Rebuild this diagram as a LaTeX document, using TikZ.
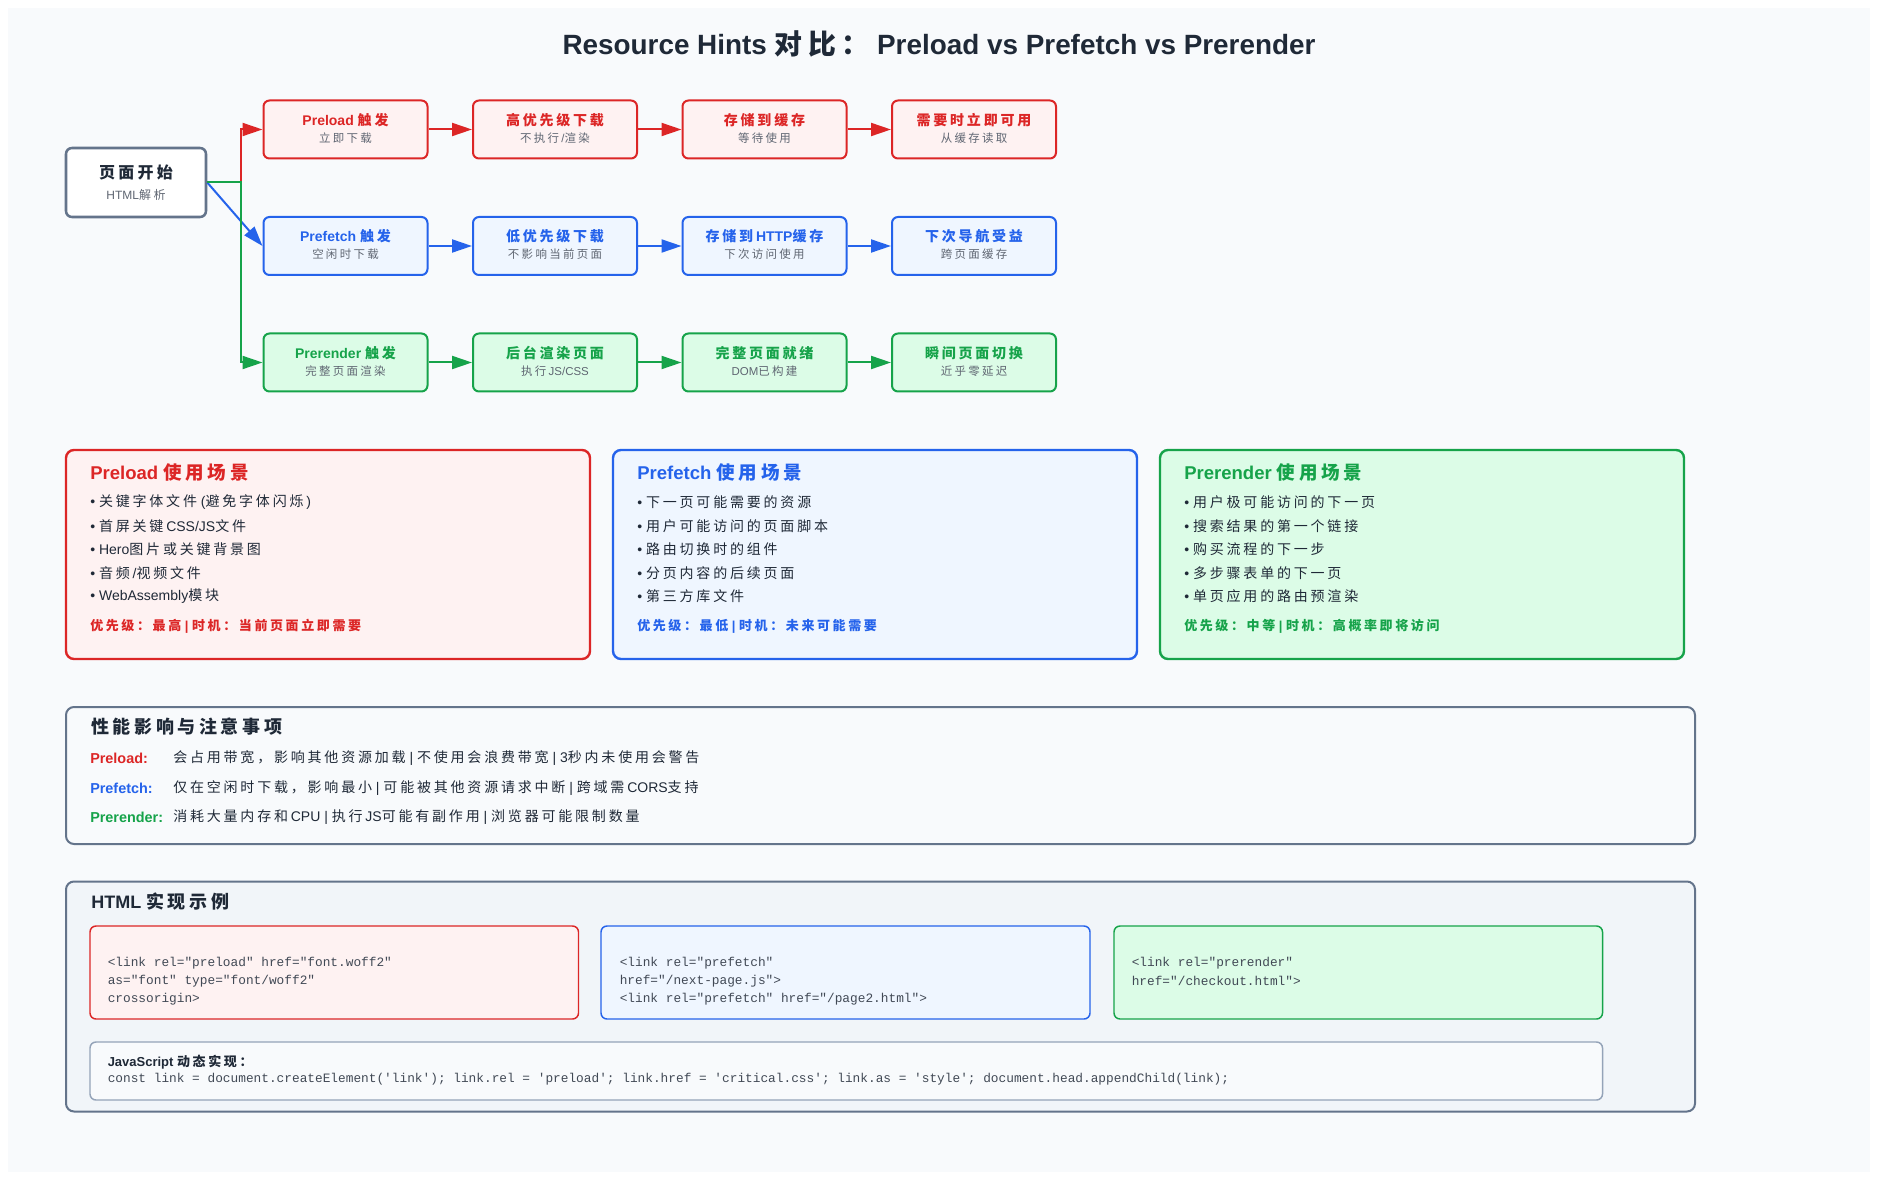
\documentclass[tikz,border=0pt]{standalone}
\usepackage{fontspec}
\setmainfont{Liberation Sans}
\setmonofont{Liberation Mono}
\newfontfamily\cjk{Noto Sans CJK SC}
\usetikzlibrary{arrows.meta}

\definecolor{cred}{HTML}{DC2626}
\definecolor{credl}{HTML}{FEF2F2}
\definecolor{cblue}{HTML}{2563EB}
\definecolor{cbluel}{HTML}{EFF6FF}
\definecolor{cgreen}{HTML}{16A34A}
\definecolor{cgreenl}{HTML}{DCFCE7}
\definecolor{cslate}{HTML}{64748B}
\definecolor{cink}{HTML}{1F2937}
\definecolor{cgray}{HTML}{5F6672}
\definecolor{cbg}{HTML}{F8FAFC}
\definecolor{cpanel}{HTML}{F1F5F9}
\definecolor{cline}{HTML}{94A3B8}

% Chinese characters are set in \cjk, with some tracking
\XeTeXinterchartokenstate=1
\newXeTeXintercharclass\cjkcls
\newcount\cjkc
\newcommand\cjkrange[2]{\cjkc=#1\relax
  \loop\XeTeXcharclass\cjkc=\cjkcls\relax\ifnum\cjkc<#2\relax\advance\cjkc by 1\relax\repeat}
\cjkrange{"4E00}{"9FFF}
\cjkrange{"3000}{"303F}
\cjkrange{"FF00}{"FFEF}
\XeTeXinterchartoks 0 \cjkcls = {\cjk}
\XeTeXinterchartoks 4095 \cjkcls = {\cjk}
\XeTeXinterchartoks \cjkcls 0 = {\kern0.2em\rmfamily}
\XeTeXinterchartoks \cjkcls 4095 = {\rmfamily}
\XeTeXinterchartoks \cjkcls \cjkcls = {\kern0.2em}

\tikzset{
  flowbox/.style={draw, line width=1.5pt, rounded corners=4.5pt, minimum width=123pt, minimum height=43.5pt, inner sep=0pt},
  flowtitle/.style={inner sep=0pt, font=\fontsize{10.5}{12}\selectfont\bfseries},
  flowsub/.style={inner sep=0pt, text=cgray, font=\fontsize{8.6}{10}\selectfont},
  flow/.style={line width=1.5pt, -{Triangle[length=15pt,width=9.75pt]}},
  casebox/.style={line width=1.8pt, rounded corners=6pt},
  casehead/.style={anchor=west, inner sep=0pt, font=\fontsize{13.9}{16}\selectfont\bfseries},
  casebullet/.style={anchor=west, inner sep=0pt, text=cink, font=\fontsize{10.5}{12}\selectfont},
  prio/.style={anchor=west, inner sep=0pt, font=\fontsize{9.75}{12}\selectfont\bfseries},
  secbox/.style={draw=cslate, line width=1.5pt, rounded corners=6pt},
  sechead/.style={anchor=west, inner sep=0pt, text=cink, font=\fontsize{13.5}{16}\selectfont\bfseries},
  plabel/.style={anchor=west, inner sep=0pt, font=\fontsize{10.8}{13}\selectfont\bfseries},
  ptext/.style={anchor=west, inner sep=0pt, text=cink, font=\fontsize{10.5}{12}\selectfont},
  codebox/.style={line width=1.1pt, rounded corners=4.5pt},
  codeline/.style={anchor=west, inner sep=0pt, text=cink!85, font=\fontsize{9.6}{11}\selectfont\ttfamily},
}

\begin{document}
\begin{tikzpicture}[x=0.75pt, y=-0.75pt]
	\useasboundingbox (0,0) rectangle (1878,1180);
	\fill[white] (0,0) rectangle (1878,1180);
	\fill[cbg] (8,8) rectangle (1870,1172);
	\node[text=cink, font=\fontsize{20.9}{24}\selectfont\bfseries] (title) at (939,44) {Resource Hints 对比： Preload vs Prefetch vs Prerender};

	% flow: start node and three rows
	\node[flowbox, draw=cslate, fill=white, line width=1.9pt, minimum width=105pt, minimum height=51.75pt] (start) at (136,182.5) {};
	\node[inner sep=0pt, text=cink, font=\fontsize{12}{14}\selectfont\bfseries] (startT) at (136,172) {页面开始};
	\node[flowsub, font=\fontsize{9}{11}\selectfont] (startS) at (136,195) {HTML解析};
	\coordinate (fork) at (241,182.5);
	\foreach \t/\s [count=\i from 0] in {Preload 触发/立即下载, 高优先级下载/{不执行/渲染}, 存储到缓存/等待使用, 需要时立即可用/从缓存读取} {
		\node[flowbox, draw=cred, fill=credl] (pl\i) at ({345.5+209.5*\i},129.5) {};
		\node[flowtitle, text=cred] (plT\i) at ({345.5+209.5*\i},120) {\t};
		\node[flowsub] (plS\i) at ({345.5+209.5*\i},138) {\s};
	}
	\foreach \t/\s [count=\i from 0] in {Prefetch 触发/空闲时下载, 低优先级下载/不影响当前页面, 存储到HTTP缓存/下次访问使用, 下次导航受益/跨页面缓存} {
		\node[flowbox, draw=cblue, fill=cbluel] (pf\i) at ({345.5+209.5*\i},246) {};
		\node[flowtitle, text=cblue] (pfT\i) at ({345.5+209.5*\i},236.5) {\t};
		\node[flowsub] (pfS\i) at ({345.5+209.5*\i},254.5) {\s};
	}
	\foreach \t/\s [count=\i from 0] in {Prerender 触发/完整页面渲染, 后台渲染页面/{执行JS/CSS}, 完整页面就绪/DOM已构建, 瞬间页面切换/近乎零延迟} {
		\node[flowbox, draw=cgreen, fill=cgreenl] (pr\i) at ({345.5+209.5*\i},362.5) {};
		\node[flowtitle, text=cgreen] (prT\i) at ({345.5+209.5*\i},353) {\t};
		\node[flowsub] (prS\i) at ({345.5+209.5*\i},371) {\s};
	}
	\foreach \a/\b in {0/1, 1/2, 2/3} {
		\draw[flow, cred] (pl\a.east) -- (pl\b.west);
		\draw[flow, cblue] (pf\a.east) -- (pf\b.west);
		\draw[flow, cgreen] (pr\a.east) -- (pr\b.west);
	}
	\draw[flow, cred] (start.east) -- (fork) |- (pl0.west);
	\draw[flow, cblue] (start.east) -- (pf0.west);
	\draw[flow, cgreen] (start.east) -- (fork) |- (pr0.west);

	% use cases
	\draw[casebox, draw=cred, fill=credl] (66,450) rectangle (590,659);
	\node[casehead, text=cred] (plCase) at (90,472) {Preload 使用场景};
	\foreach \itm [count=\k from 0] in {• 关键字体文件 (避免字体闪烁), • 首屏关键CSS/JS文件, • Hero图片或关键背景图, • 音频/视频文件, • WebAssembly模块}
		\node[casebullet] (plB\k) at (90,{502.5+23.5*\k}) {\itm};
	\node[prio, text=cred] (plPrio) at (90,626) {优先级：最高 | 时机：当前页面立即需要};

	\draw[casebox, draw=cblue, fill=cbluel] (613,450) rectangle (1137,659);
	\node[casehead, text=cblue] (pfCase) at (637,472) {Prefetch 使用场景};
	\foreach \itm [count=\k from 0] in {• 下一页可能需要的资源, • 用户可能访问的页面脚本, • 路由切换时的组件, • 分页内容的后续页面, • 第三方库文件}
		\node[casebullet] (pfB\k) at (637,{502.5+23.5*\k}) {\itm};
	\node[prio, text=cblue] (pfPrio) at (637,626) {优先级：最低 | 时机：未来可能需要};

	\draw[casebox, draw=cgreen, fill=cgreenl] (1160,450) rectangle (1684,659);
	\node[casehead, text=cgreen] (prCase) at (1184,472) {Prerender 使用场景};
	\foreach \itm [count=\k from 0] in {• 用户极可能访问的下一页, • 搜索结果的第一个链接, • 购买流程的下一步, • 多步骤表单的下一页, • 单页应用的路由预渲染}
		\node[casebullet] (prB\k) at (1184,{502.5+23.5*\k}) {\itm};
	\node[prio, text=cgreen] (prPrio) at (1184,626) {优先级：中等 | 时机：高概率即将访问};

	% performance notes
	\draw[secbox, fill=cbg] (66,707) rectangle (1695,844);
	\node[sechead] (perfT) at (91,727) {性能影响与注意事项};
	\node[plabel, text=cred] (perfL1) at (90,758) {Preload:};
	\node[ptext] (perfX1) at (173,758) {会占用带宽，影响其他资源加载 | 不使用会浪费带宽 | 3秒内未使用会警告};
	\node[plabel, text=cblue] (perfL2) at (90,788) {Prefetch:};
	\node[ptext] (perfX2) at (173,788) {仅在空闲时下载，影响最小 | 可能被其他资源请求中断 | 跨域需CORS支持};
	\node[plabel, text=cgreen] (perfL3) at (90,817) {Prerender:};
	\node[ptext] (perfX3) at (173,817) {消耗大量内存和CPU | 执行JS可能有副作用 | 浏览器可能限制数量};

	% html examples
	\draw[secbox, fill=cpanel] (66,881.5) rectangle (1695,1111.5);
	\node[sechead] (htmlT) at (91,902) {HTML 实现示例};
	\draw[codebox, draw=cred, fill=credl] (90,926) rectangle (578.5,1019);
	\foreach \itm [count=\k from 0] in {{<link rel="preload" href="font.woff2"}, {as="font" type="font/woff2"}, {crossorigin>}}
		\node[codeline] (plCode\k) at (107.5,{963+18*\k}) {\itm};
	\draw[codebox, draw=cblue, fill=cbluel] (601,926) rectangle (1090,1019);
	\foreach \itm [count=\k from 0] in {{<link rel="prefetch"}, {href="/next-page.js">}, {<link rel="prefetch" href="/page2.html">}}
		\node[codeline] (pfCode\k) at (619.5,{963+18*\k}) {\itm};
	\draw[codebox, draw=cgreen, fill=cgreenl] (1114,926) rectangle (1602.5,1019);
	\foreach \itm [count=\k from 0] in {{<link rel="prerender"}, {href="/checkout.html">}}
		\node[codeline] (prCode\k) at (1131.5,{963+18*\k}) {\itm};
	\draw[codebox, draw=cline, fill=cbg] (90,1042) rectangle (1602.5,1100);
	\node[anchor=west, inner sep=0pt, text=cink, font=\fontsize{9.75}{12}\selectfont\bfseries] (jsT) at (107.5,1062) {JavaScript 动态实现：};
	\node[codeline] (jsCode) at (107.5,1079) {const link = document.createElement('link'); link.rel = 'preload'; link.href = 'critical.css'; link.as = 'style'; document.head.appendChild(link);};
\end{tikzpicture}
\end{document}
